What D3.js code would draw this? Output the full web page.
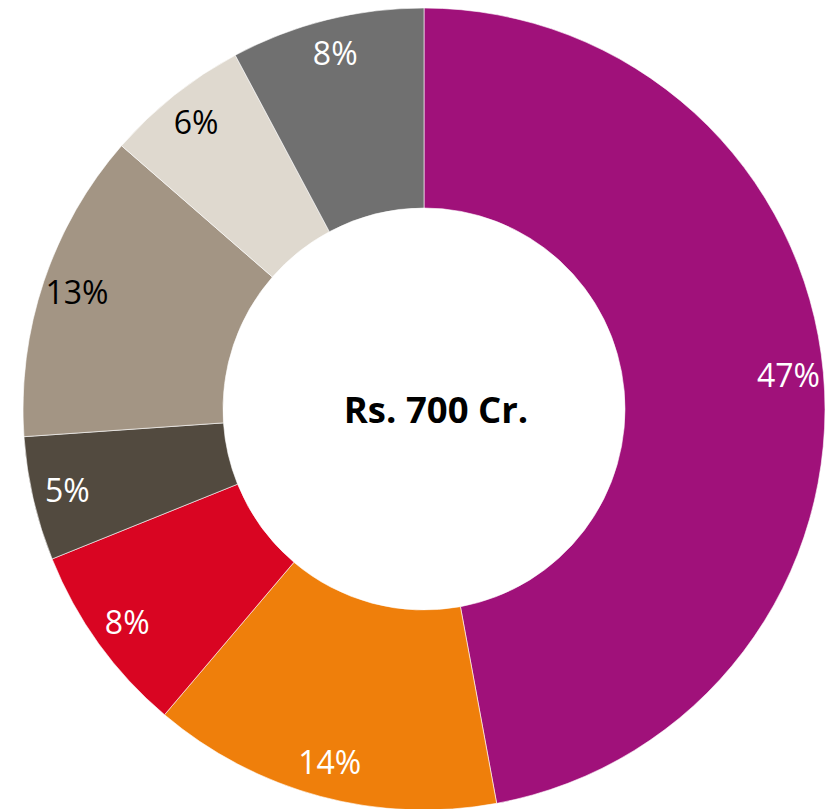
<!DOCTYPE html>
<html>
<head>
<meta charset="utf-8">
<script src="https://cdn.jsdelivr.net/npm/d3@7"></script>
<style>
  html, body { margin: 0; padding: 0; background: #fff; }
  #chart { width: 833px; height: 809px; }
</style>
</head>
<body>
<div id="chart"></div>
<script>
// slice data, clockwise from 12 o'clock
const segments = ["A", "B", "C", "D", "E", "F", "G"];
const shares = [47.1, 14.1, 7.7, 5.0, 12.5, 5.8, 7.8];
const labels = ["47%", "14%", "8%", "5%", "13%", "6%", "8%"];
const colors = ["#A0117A", "#EF7F0B", "#D90522", "#524A3F", "#A39584", "#DFD9CF", "#707070"];
const labelColors = ["#fff", "#fff", "#fff", "#fff", "#000", "#000", "#fff"];
const centerText = "Rs. 700 Cr.";

const w = 833, h = 809;
const cx = 424, cy = 409;
const outerR = 401, innerR = 201, labelR = 366;

const svg = d3.select("#chart")
  .append("svg")
  .attr("width", w)
  .attr("height", h);

const g = svg.append("g")
  .attr("transform", "translate(" + cx + "," + cy + ")");

const pie = d3.pie().sort(null).value((d, i) => shares[i]);
const arcs = pie(segments);

const arc = d3.arc().innerRadius(innerR).outerRadius(outerR);
const labelArc = d3.arc().innerRadius(labelR).outerRadius(labelR);

g.selectAll("path")
  .data(arcs)
  .enter()
  .append("path")
  .attr("d", arc)
  .attr("fill", (d, i) => colors[i])
  .attr("stroke", "#fff")
  .attr("stroke-width", 0.6);

g.selectAll("text.lbl")
  .data(arcs)
  .enter()
  .append("text")
  .attr("class", "lbl")
  .attr("transform", d => "translate(" + labelArc.centroid(d) + ")")
  .attr("text-anchor", "middle")
  .attr("dy", "0.35em")
  .style("font-family", "'Open Sans', sans-serif")
  .style("font-size", "32px")
  .attr("fill", (d, i) => labelColors[i])
  .text((d, i) => labels[i]);

svg.append("text")
  .attr("x", 436)
  .attr("y", cy + 1)
  .attr("text-anchor", "middle")
  .attr("dy", "0.35em")
  .style("font-family", "'Open Sans', sans-serif")
  .style("font-weight", "bold")
  .style("font-size", "36.5px")
  .attr("fill", "#000")
  .text(centerText);
</script>
</body>
</html>
